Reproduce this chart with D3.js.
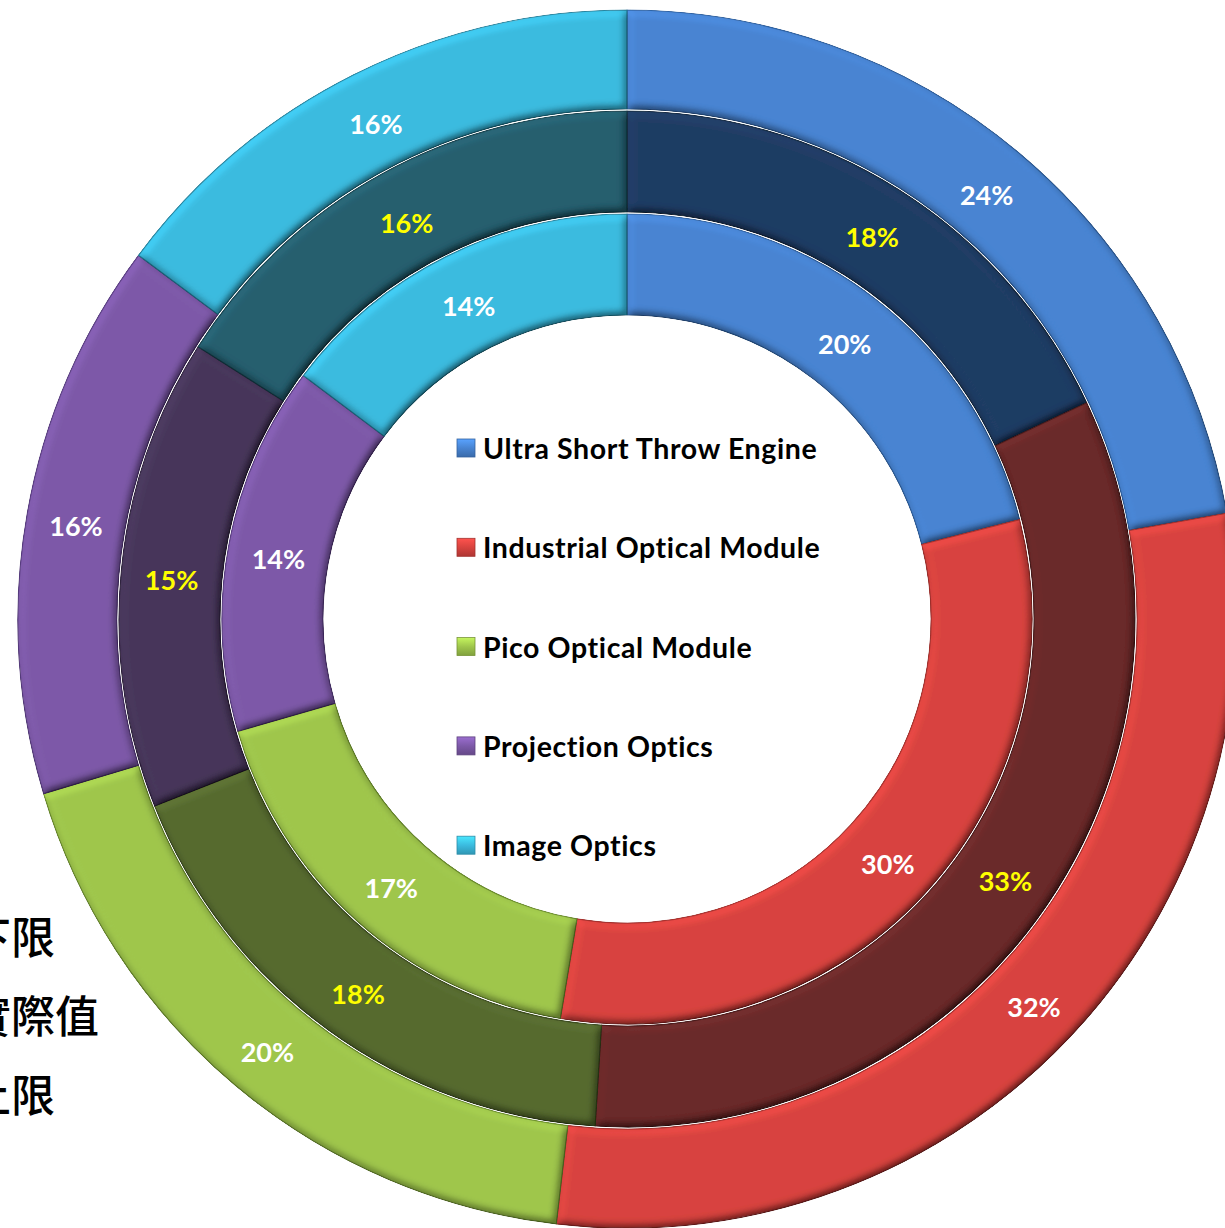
<!DOCTYPE html>
<html>
<head>
<meta charset="utf-8">
<script src="https://cdn.jsdelivr.net/npm/d3@7"></script>
<style>
  html, body { margin: 0; padding: 0; background: #fff; overflow: hidden; }
  svg { display: block; }
</style>
</head>
<body>
<svg id="chart" width="1225" height="1228"></svg>
<script>
// ---- data ----
const categories = ["Ultra Short Throw Engine", "Industrial Optical Module", "Pico Optical Module", "Projection Optics", "Image Optics"];
const lowerValues  = [20, 30, 17, 14, 14];   // inner ring  (下限)
const actualValues = [18, 33, 18, 15, 16];   // middle ring (實際值)
const upperValues  = [24, 32, 20, 16, 16];   // outer ring  (上限)
const ringNames = ["下限", "實際值", "上限"];

// ---- styles ----
const lightColors = ["#4884d2", "#d8433f", "#9fc64c", "#7d59a8", "#3bbbdf"];
const darkColors  = ["#1f3c64", "#6a2929", "#566a2f", "#47365a", "#255e6e"];
const edgeLight = ["#2d5f9e", "#9e2f2c", "#6d8f2e", "#553a7c", "#237f99"];
const edgeDark  = ["#14283f", "#461a1a", "#3a4a1e", "#2e223c", "#173f4a"];

const W = 1225, H = 1228;
const cx = 627, cy = 619;

const svg = d3.select("#chart");
const defs = svg.append("defs");

// bevel filter
const f = defs.append("filter").attr("id", "bevel")
  .attr("x", "-5%").attr("y", "-5%").attr("width", "110%").attr("height", "110%");
f.append("feGaussianBlur").attr("in", "SourceAlpha").attr("stdDeviation", 4).attr("result", "blur");
const dl = f.append("feDiffuseLighting").attr("in", "blur").attr("surfaceScale", 5)
  .attr("diffuseConstant", 1).attr("lighting-color", "#ffffff").attr("result", "light");
dl.append("feDistantLight").attr("azimuth", 235).attr("elevation", 55);
f.append("feComposite").attr("in", "SourceGraphic").attr("in2", "light")
  .attr("operator", "arithmetic").attr("k1", 1.22).attr("k2", 0).attr("k3", 0).attr("k4", 0)
  .attr("result", "lit");
f.append("feComposite").attr("in", "lit").attr("in2", "SourceAlpha").attr("operator", "in");

// legend square gradients
categories.forEach((c, i) => {
  const g = defs.append("linearGradient").attr("id", "lg" + i)
    .attr("x1", 0).attr("y1", 0).attr("x2", 0).attr("y2", 1);
  g.append("stop").attr("offset", 0).attr("stop-color", d3.color(lightColors[i]).brighter(0.6));
  g.append("stop").attr("offset", 0.5).attr("stop-color", lightColors[i]);
  g.append("stop").attr("offset", 1).attr("stop-color", d3.color(lightColors[i]).darker(0.6));
});

const rings = [
  { name: ringNames[0], values: lowerValues,  r0: 303, r1: 406, colors: lightColors, edges: edgeLight, labelColor: "#ffffff" },
  { name: ringNames[1], values: actualValues, r0: 406, r1: 509, colors: darkColors,  edges: edgeDark,  labelColor: "#ffff00" },
  { name: ringNames[2], values: upperValues,  r0: 509, r1: 610, colors: lightColors, edges: edgeLight, labelColor: "#ffffff" }
];

const pie = d3.pie().sort(null).value(d => d);
const g = svg.append("g").attr("transform", `translate(${cx},${cy})`);

rings.forEach((ring, ri) => {
  const arc = d3.arc().innerRadius(ring.r0 + 1).outerRadius(ring.r1 - 1);
  const arcs = pie(ring.values);
  const rg = g.append("g").attr("class", "ring ring" + ri);
  rg.selectAll("path").data(arcs).join("path")
    .attr("d", arc)
    .attr("fill", (d, i) => ring.colors[i])
    .attr("stroke", (d, i) => ring.edges[i])
    .attr("stroke-width", 1.2)
    .attr("filter", "url(#bevel)");
  const labelArc = d3.arc().innerRadius(ring.r0).outerRadius(ring.r1);
  rg.selectAll("text").data(arcs).join("text")
    .attr("transform", d => { const c = labelArc.centroid(d); return `translate(${c[0]},${c[1] + 4})`; })
    .attr("text-anchor", "middle")
    .attr("dominant-baseline", "central")
    .attr("font-family", "Lato, 'Open Sans', sans-serif")
    .attr("font-weight", 700)
    .attr("font-size", 27)
    .attr("fill", ring.labelColor)
    .text(d => d.data + "%");
});

// center legend
const legend = svg.append("g").attr("transform", "translate(457,448)");
const legendStep = 99.3;
categories.forEach((c, i) => {
  const row = legend.append("g").attr("transform", `translate(0,${i * legendStep})`);
  row.append("rect").attr("x", 0).attr("y", -9).attr("width", 18).attr("height", 18)
    .attr("fill", `url(#lg${i})`).attr("stroke", d3.color(lightColors[i]).darker(0.8)).attr("stroke-width", 0.8);
  row.append("text").attr("x", 26).attr("y", 0)
    .attr("dominant-baseline", "central")
    .attr("font-family", "Lato, 'Open Sans', sans-serif")
    .attr("font-weight", 700)
    .attr("font-size", 28.5)
    .attr("letter-spacing", 0.6)
    .attr("fill", "#000")
    .text(c);
});

// ring legend on the left (partly clipped at the edge, as in the reference)
const ringLegend = svg.append("g");
ringNames.forEach((n, i) => {
  ringLegend.append("text")
    .attr("x", -33).attr("y", 935 + i * 79)
    .attr("dominant-baseline", "central")
    .attr("font-family", "'Noto Sans CJK TC', 'Noto Sans CJK SC', sans-serif")
    .attr("font-weight", 500)
    .attr("font-size", 44)
    .attr("fill", "#000")
    .text(n);
});
</script>
</body>
</html>
